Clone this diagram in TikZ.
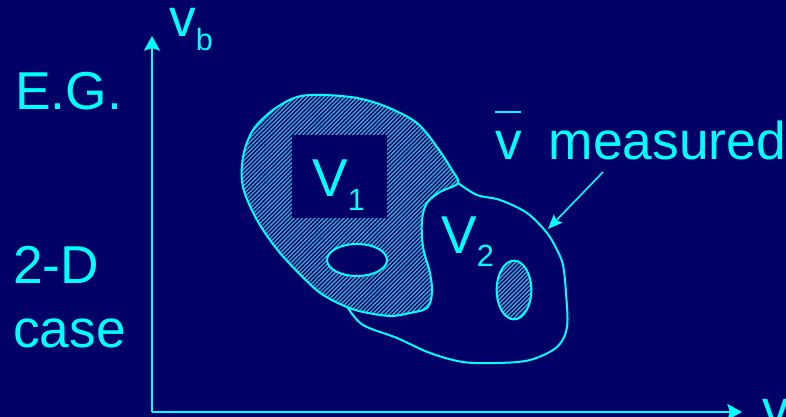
\documentclass[tikz,border=0pt]{standalone}
\usepackage{fontspec}
\setmainfont{Liberation Sans}
\usetikzlibrary{patterns.meta,arrows.meta,shapes.geometric}
\definecolor{navy}{RGB}{0,0,102}
\definecolor{aqua}{RGB}{0,255,255}
\definecolor{hatch}{RGB}{60,170,215}
\newcommand\lowsub[1]{\raisebox{-10pt}{\fontsize{23}{23}\selectfont #1}}
\begin{document}
\begin{tikzpicture}[x=0.75pt,y=-0.75pt,
  txt/.style={text=aqua,inner sep=0pt,anchor=base west,font=\fontsize{40}{48}\selectfont},
  outline/.style={draw=aqua,line width=1.5pt},
  hatched/.style={pattern={Lines[angle=45,distance=2.2pt,line width=1pt]},pattern color=hatch},
  axis/.style={draw=aqua,line width=1.5pt,-{Stealth[length=11pt,width=12pt,inset=2pt]}},
  pointer/.style={draw=aqua,line width=1.2pt,-{Stealth[length=11pt,width=9pt,inset=2pt]}},
]
% background and frame
\fill[navy] (0,0) rectangle (786,417);
\useasboundingbox (0,0) rectangle (786,417);
\clip (0,0) rectangle (786,417);

% axes
\coordinate (origin) at (152,412);
\coordinate (ytip) at (152,36);
\coordinate (xtip) at (742,412);
\draw[axis] (origin) -- (ytip);
\draw[axis] (origin) -- (xtip);
\node[txt] (vb) at (169,37) {v\lowsub{b}};
\node[txt] (va) at (762,427) {v\lowsub{a}};

% side captions
\node[txt] (eg) at (15,110) {E.G.};
\node[txt] (twod) at (13,283) {2-D};
\node[txt] (case) at (13,347) {case};

% region V1 (hatched)
\path[outline,hatched] plot[smooth cycle,tension=0.55] coordinates {
  (297,97) (323,95) (357,98) (387,107) (417,123) (437,147) (452,170)
  (458,183) (440,192) (427,203) (422,220) (423,247) (430,273) (432,293)
  (427,308) (410,313) (390,316) (363,312) (347,307) (330,299) (313,287)
  (280,253) (257,220) (243,187) (243,157) (253,130) (273,110)};
\fill[navy] (292,135) rectangle (387,218);
\node[ellipse,outline,fill=navy,minimum width=45pt,minimum height=24pt,inner sep=0pt] (hole1) at (357,260) {};

% region V2 outline
\draw[outline] plot[smooth,tension=0.55] coordinates {
  (348,308) (363,325) (397,338) (430,353) (463,362) (497,363) (530,360)
  (557,347) (567,327) (566,293) (563,265) (557,250) (547,233) (527,213)
  (500,200) (477,195) (458,183)};
\node[ellipse,outline,hatched,minimum width=26pt,minimum height=44pt,inner sep=0pt] (hole2) at (514,290) {};

% region labels
\node[txt] (v1) at (312,197) {V\lowsub{1}};
\node[txt] (v2) at (441,253) {V\lowsub{2}};

% measured point
\node[txt] (meas) at (495,160) {v\hspace{0.5em}measured};
\draw[aqua,line width=1.2pt] (495,112) -- (521,112);
\coordinate (ptail) at (603,172);
\coordinate (phead) at (548,229);
\draw[pointer] (ptail) -- (phead);
\end{tikzpicture}
\end{document}
